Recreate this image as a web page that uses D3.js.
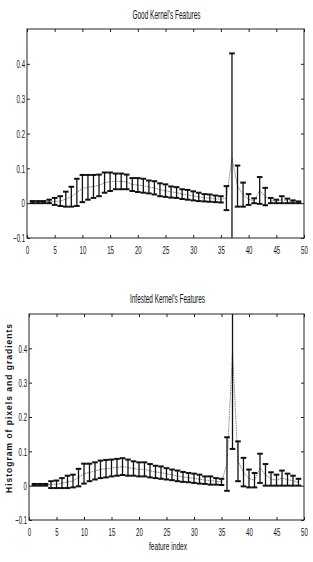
<!DOCTYPE html>
<html>
<head>
<meta charset="utf-8">
<script src="https://cdn.jsdelivr.net/npm/d3@7"></script>
<style>
  body { margin: 0; background: #fff; }
  text { font-family: "Liberation Sans Narrow", "Arial Narrow", "Liberation Sans", sans-serif; fill: #111; }
</style>
</head>
<body>
<svg></svg>
<script>
// feature number 1..49
var featureIndex = [1,2,3,4,5,6,7,8,9,10,11,12,13,14,15,16,17,18,19,20,21,22,23,24,25,
  26,27,28,29,30,31,32,33,34,35,36,37,38,39,40,41,42,43,44,45,46,47,48,49];

// good kernels: mean and half error bar
var goodMean = [0.003,0.003,0.003,0.005,0.005,0.006,0.0115,0.0185,0.031,0.042,0.0455,0.048,0.051,
  0.059,0.0615,0.0625,0.0625,0.061,0.0535,0.052,0.05,0.0465,0.044,0.0385,0.036,0.032,0.0305,
  0.026,0.024,0.021,0.018,0.0155,0.0145,0.0125,0.011,0.0145,0.13,0.049,0.0245,0.0105,0.007,
  0.0365,0.019,0.0075,0.005,0.01,0.0065,0.004,0.0025];
var goodErr = [0.003,0.003,0.003,0.005,0.01,0.014,0.0215,0.0285,0.039,0.039,0.0355,0.033,0.031,
  0.029,0.0265,0.0225,0.0225,0.021,0.0185,0.02,0.02,0.0185,0.019,0.0185,0.018,0.016,0.0155,
  0.014,0.014,0.013,0.012,0.0105,0.0105,0.0095,0.009,0.0345,0.30,0.059,0.0345,0.0155,0.007,
  0.0385,0.025,0.0075,0.005,0.01,0.0065,0.004,0.0025];

// infested kernels: mean and half error bar
var infMean = [0.0025,0.0025,0.0025,0.003,0.004,0.0075,0.011,0.0135,0.0235,0.035,0.0385,0.043,0.0475,
  0.0495,0.0515,0.0535,0.0555,0.0525,0.05,0.0475,0.0475,0.0435,0.04,0.038,0.0345,0.0315,0.0285,
  0.0255,0.0235,0.0215,0.019,0.016,0.015,0.0125,0.011,0.063,0.39,0.071,0.0395,0.021,0.016,
  0.0505,0.0315,0.0195,0.016,0.022,0.0175,0.0145,0.01];
var infErr = [0.0025,0.0025,0.0025,0.01,0.011,0.0145,0.018,0.0185,0.0255,0.029,0.0255,0.025,0.0255,
  0.0255,0.0245,0.0245,0.0245,0.0235,0.021,0.0205,0.0205,0.0195,0.018,0.018,0.0165,0.0155,0.0155,
  0.0145,0.0135,0.0135,0.013,0.011,0.012,0.0095,0.009,0.078,0.283,0.058,0.0415,0.026,0.021,
  0.0425,0.0315,0.0195,0.016,0.022,0.0175,0.0145,0.01];

var xTicks = [0,5,10,15,20,25,30,35,40,45,50];
var yTicks = [-0.1,0,0.1,0.2,0.3,0.4];

var width = 313, height = 562;
var svg = d3.select("svg").attr("width", width).attr("height", height);

// squeeze tick labels like the condensed print font
function squeeze(sel) {
  sel.style("font-size", "11.5px")
    .attr("lengthAdjust", "spacingAndGlyphs")
    .attr("textLength", function() {
      var s = this.textContent, w = 0;
      for (var k = 0; k < s.length; k++) w += s[k] === "." ? 1.6 : s[k] === "-" ? 2.2 : 3.4;
      return w;
    });
}

function drawPanel(id, mean, err, title, box, titleY, titleLen, xPad) {
  var x = d3.scaleLinear().domain([0, 50]).range([box.left, box.right]);
  var y = d3.scaleLinear().domain([-0.1, 0.5]).range([box.bottom, box.top]);
  var g = svg.append("g");

  g.append("clipPath").attr("id", id)
    .append("rect")
    .attr("x", box.left).attr("y", box.top)
    .attr("width", box.right - box.left).attr("height", box.bottom - box.top);

  // ticks inside the box, MATLAB style
  g.append("g").attr("transform", "translate(0," + box.bottom + ")")
    .call(d3.axisBottom(x).tickValues(xTicks).tickSizeInner(-3).tickSizeOuter(0).tickPadding(xPad))
    .call(function(a) {
      a.select(".domain").remove();
      a.selectAll("text").call(squeeze);
    });
  g.append("g").attr("transform", "translate(0," + box.top + ")")
    .call(d3.axisTop(x).tickValues(xTicks).tickSizeInner(-3).tickSizeOuter(0).tickFormat(""))
    .call(function(a) { a.select(".domain").remove(); });
  g.append("g").attr("transform", "translate(" + box.left + ",0)")
    .call(d3.axisLeft(y).tickValues(yTicks).tickSizeInner(-3).tickSizeOuter(0).tickPadding(2)
      .tickFormat(function(d) { return d === 0 ? "0" : d3.format(".1f")(d); }))
    .call(function(a) {
      a.select(".domain").remove();
      a.selectAll("text").call(squeeze);
    });
  g.append("g").attr("transform", "translate(" + box.right + ",0)")
    .call(d3.axisRight(y).tickValues(yTicks).tickSizeInner(-3).tickSizeOuter(0).tickFormat(""))
    .call(function(a) { a.select(".domain").remove(); });

  g.selectAll(".tick line").attr("stroke", "#222");
  g.selectAll(".tick text").attr("fill", "#111");

  var plot = g.append("g").attr("clip-path", "url(#" + id + ")");

  // mean line
  var line = d3.line()
    .x(function(d, i) { return x(featureIndex[i]); })
    .y(function(d) { return y(d); });
  plot.append("path").datum(mean)
    .attr("d", line)
    .attr("fill", "none")
    .attr("stroke", "#7a7a7a")
    .attr("stroke-width", 0.9)
    .attr("stroke-dasharray", "1.6,0.8");

  // error bars
  var bars = plot.selectAll(".eb").data(mean).enter().append("g").attr("class", "eb");
  bars.append("line")
    .attr("x1", function(d, i) { return x(featureIndex[i]); })
    .attr("x2", function(d, i) { return x(featureIndex[i]); })
    .attr("y1", function(d, i) { return y(d - err[i]); })
    .attr("y2", function(d, i) { return y(d + err[i]); })
    .attr("stroke", "#111").attr("stroke-width", 1.3);
  [-1, 1].forEach(function(s) {
    bars.append("line")
      .attr("x1", function(d, i) { return x(featureIndex[i]) - 2.8; })
      .attr("x2", function(d, i) { return x(featureIndex[i]) + 2.8; })
      .attr("y1", function(d, i) { return y(d + s * err[i]); })
      .attr("y2", function(d, i) { return y(d + s * err[i]); })
      .attr("stroke", "#111").attr("stroke-width", 2);
  });

  // frame
  g.append("rect")
    .attr("x", box.left).attr("y", box.top)
    .attr("width", box.right - box.left).attr("height", box.bottom - box.top)
    .attr("fill", "none").attr("stroke", "#222").attr("stroke-width", 1);

  g.append("text")
    .attr("x", (box.left + box.right) / 2 + 1)
    .attr("y", titleY)
    .attr("text-anchor", "middle")
    .attr("textLength", titleLen)
    .attr("lengthAdjust", "spacingAndGlyphs")
    .style("font-size", "12px")
    .text(title);
}

drawPanel("clipGood", goodMean, goodErr, "Good Kernel's Features",
  { left: 27, right: 304, top: 29, bottom: 238 }, 19, 68, 8);
drawPanel("clipInf", infMean, infErr, "Infested Kernel's Features",
  { left: 29, right: 304, top: 314, bottom: 520 }, 303, 75, 7.5);

svg.append("text")
  .attr("x", 168).attr("y", 550)
  .attr("text-anchor", "middle")
  .attr("textLength", 38)
  .attr("lengthAdjust", "spacingAndGlyphs")
  .style("font-size", "11px")
  .text("feature index");

svg.append("text")
  .attr("transform", "translate(12,408) rotate(-90)")
  .attr("text-anchor", "middle")
  .style("font-family", "'Liberation Sans', sans-serif")
  .style("font-weight", "bold")
  .style("font-size", "8.5px")
  .style("letter-spacing", "1px")
  .text("Histogram of pixels and gradients");
</script>
</body>
</html>
